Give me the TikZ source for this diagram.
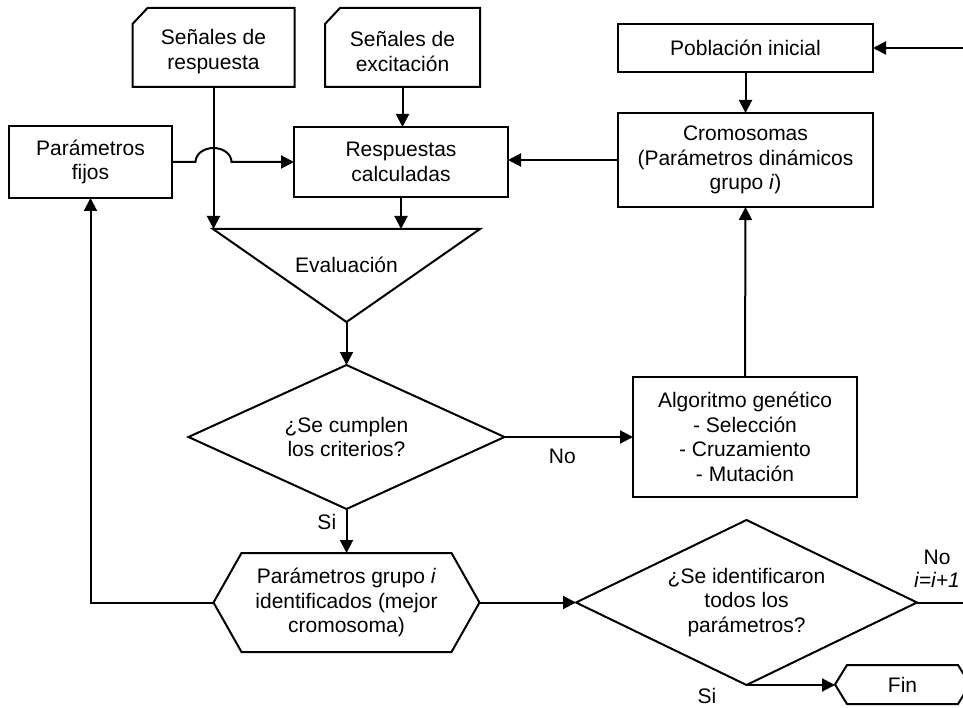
\documentclass[tikz,border=0pt]{standalone}
\usepackage{fontspec}
\setmainfont{Liberation Sans}
\usetikzlibrary{arrows.meta,shapes.geometric}
\tikzset{box/.style={draw, line width=2pt, inner sep=0pt, outer sep=0pt, align=center},
  plain/.style={inner sep=0pt, outer sep=0pt, align=center},
  decision/.style={diamond, draw, line width=2pt, inner sep=0pt, outer sep=0pt, align=center},
  arr/.style={line width=2pt, -{Triangle[length=13pt,width=13pt]}},
  edge/.style={line width=2pt}}

\begin{document}
\begin{tikzpicture}[x=1pt, y=-1pt, font=\fontsize{21}{24.5}\selectfont]
      \useasboundingbox (0,0) rectangle (963,708);
      \clip (0,0) rectangle (963,708);

      % entradas
      \node [plain, minimum width=162pt, minimum height=71pt] (sresp) at (213.5,51.5) {Señales de\\respuesta};
      \node [plain, minimum width=155pt, minimum height=71pt] (sexc) at (402.5,51.5) {Señales de\\excitación};
      \draw [edge] (sresp.south west) -- ([yshift=-8pt]sresp.north west) -- ([xshift=15pt, yshift=8pt]sresp.north west) -- ([yshift=8pt]sresp.north east) -- (sresp.south east) -- cycle;
      \draw [edge] (sexc.south west) -- ([yshift=-8pt]sexc.north west) -- ([xshift=15pt, yshift=8pt]sexc.north west) -- ([yshift=8pt]sexc.north east) -- (sexc.south east) -- cycle;

      \node [box, minimum width=163pt, minimum height=72pt] (pfijos) at (90.5,162) {Parámetros\\fijos};
      \node [box, minimum width=214pt, minimum height=70pt] (rcalc) at (401,162) {Respuestas\\calculadas};
      \node [box, minimum width=255pt, minimum height=48pt] (pobl) at (745.5,48) {Población inicial};
      \node [box, minimum width=255pt, minimum height=94pt] (crom) at (745.5,160) {Cromosomas\\(Parámetros dinámicos\\grupo \textit{i})};
      \node [box, minimum width=224pt, minimum height=120pt] (alg) at (745,437) {Algoritmo genético\\- Selección\\- Cruzamiento\\- Mutación};

      % evaluacion
      \coordinate (evtl) at (213,229);
      \coordinate (evtr) at (480,229);
      \coordinate (evb) at (346.5,322);
      \draw [edge] (evtl) -- (evtr) -- (evb) -- cycle;
      \node [plain] (eval) at (346.5,265) {Evaluación};

      \node [decision, aspect=2.19, minimum width=316pt, minimum height=144pt] (crit) at (346.5,437) {¿Se cumplen\\los criterios?};
      \node [decision, aspect=2.07, minimum width=341pt, minimum height=165pt] (todos) at (746.5,602.5) {¿Se identificaron\\todos los\\parámetros?};

      % salidas
      \node [plain, minimum width=266pt, minimum height=99pt] (pgrp) at (346.5,602.5) {Parámetros grupo \textit{i}\\identificados (mejor\\cromosoma)};
      \draw [edge] (pgrp.west) -- ([xshift=28pt]pgrp.north west) -- ([xshift=-28pt]pgrp.north east) -- (pgrp.east) -- ([xshift=-28pt]pgrp.south east) -- ([xshift=28pt]pgrp.south west) -- cycle;
      \node [plain, minimum width=135pt, minimum height=39pt] (fin) at (902.5,684.5) {Fin};
      \draw [edge] (fin.west) -- ([xshift=12pt]fin.north west) -- ([xshift=-12pt]fin.north east) -- (fin.east) -- ([xshift=-12pt]fin.south east) -- ([xshift=12pt]fin.south west) -- cycle;

      % conectores
      \draw [arr] (sresp.south) -- (sresp.south |- evtl);
      \draw [arr] (sexc.south) -- (sexc.south |- rcalc.north);
      \draw [arr] (rcalc.south) -- (rcalc.south |- evtl);
      \draw [arr] (pfijos.east) -- ([xshift=-18pt]pfijos.east -| sresp.south) arc [start angle=180, end angle=0, x radius=18pt, y radius=14pt] -- (rcalc.west);
      \draw [arr] (pobl.south) -- (crom.north);
      \draw [arr] (crom.west) -- (crom.west -| rcalc.east);
      \draw [arr] (evb) -- (crit.north);
      \draw [arr] (crit.east) -- (alg.west) node [pos=0.45, below=8pt] {No};
      \draw [arr] (alg.north) -- (crom.south);
      \draw [arr] (crit.south) -- (pgrp.north) node [pos=0.3, left=6pt] {Si};
      \draw [arr] (pgrp.west) -| (pfijos.south);
      \draw [arr] (pgrp.east) -- (todos.west);
      \draw [arr] (todos.south) -- (todos.south -| fin.west);
      \node [plain] (si2) at (707,696) {Si};
      \coordinate (xr) at (980,0);
      \draw [arr] (todos.east) -- (todos.east -| xr) |- (pobl.east);
      \node [plain] (no2) at (937,557) {No};
      \node [plain] (inc) at (937,580) {\textit{i=i+1}};
    \end{tikzpicture}
\end{document}
